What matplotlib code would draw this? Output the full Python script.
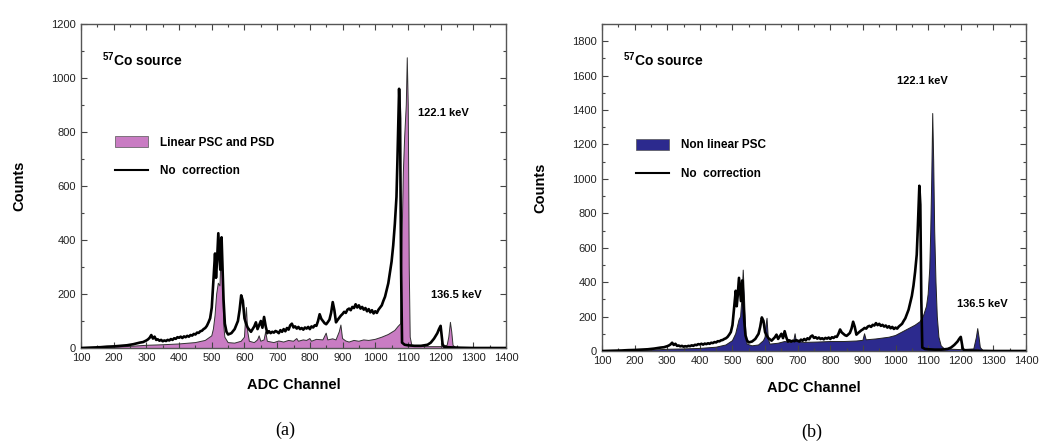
import matplotlib
matplotlib.use("Agg")
import matplotlib.pyplot as plt
from matplotlib.patches import Patch
from matplotlib.lines import Line2D
from matplotlib.ticker import MultipleLocator

plt.rcParams['font.family'] = ['Liberation Sans', 'DejaVu Sans']
plt.rcParams['mathtext.fontset'] = 'custom'
plt.rcParams['mathtext.rm'] = 'Liberation Sans:bold'
plt.rcParams['mathtext.bf'] = 'Liberation Sans:bold'

# ---- No correction spectrum (same in both panels) ----
nc_ch = [100, 120, 140, 160, 180, 200, 220, 240, 260, 280, 290,
         300, 305, 310, 315, 320, 325, 330, 335, 340, 345, 350, 355, 360, 365, 370, 375, 380, 385,
         390, 395, 400, 405, 410, 415, 420, 425, 430, 435, 440, 445, 450, 455, 460, 465, 470, 475,
         480, 485, 490, 495, 500, 505,
         510, 513, 516, 520, 523, 526, 530, 533, 536, 540, 545, 550, 560, 570, 580, 585, 590, 595,
         600, 605, 610, 620, 630, 635, 640, 645, 650, 655, 660, 665, 670, 675, 680, 685, 690, 695,
         700, 705, 710, 715, 720, 725, 730, 735, 740, 745, 750, 755, 760, 765, 770, 775, 780, 785,
         790, 795, 800, 805, 810, 815, 820, 825, 830, 835, 840, 845, 850, 855, 860, 865, 870, 875,
         880, 885, 890, 895, 900, 905, 910, 915, 920, 925, 930, 935, 940, 945, 950, 955, 960, 965,
         970, 975, 980, 985, 990, 995, 1000, 1005, 1010, 1015, 1020, 1025, 1030, 1035, 1040, 1045,
         1050, 1055, 1060, 1065, 1068, 1071, 1073, 1076, 1079, 1082, 1090, 1100, 1120, 1140,
         1160, 1170, 1180, 1190, 1195, 1200, 1203, 1206, 1210, 1220, 1240, 1260, 1300, 1400]
nc_counts = [0, 1, 2, 3, 5, 6, 8, 10, 14, 20, 22,
             28, 32, 38, 48, 35, 42, 30, 32, 27, 30, 25, 28, 26, 30, 28, 33, 30, 36,
             34, 40, 38, 42, 37, 43, 40, 45, 42, 48, 46, 52, 50, 57, 56, 62, 64, 70,
             74, 82, 95, 110, 150, 250,
             350, 260, 320, 425, 360, 290, 410, 300, 180, 90, 60, 50, 55, 70, 100, 140, 195, 175,
             110, 90, 75, 60, 80, 95, 70, 85, 100, 75, 115, 80, 55, 62, 55, 60, 57, 63,
             60, 55, 66, 60, 70, 62, 74, 68, 84, 90, 76, 80, 72, 78, 70, 74, 68, 76,
             72, 78, 70, 80, 76, 84, 82, 100, 125, 108, 100, 92, 88, 96, 105, 130, 170, 140,
             95, 104, 112, 120, 126, 134, 130, 142, 146, 140, 152, 148, 162, 150, 158, 146, 152, 142,
             148, 136, 144, 132, 140, 128, 136, 130, 142, 150, 158, 175, 190, 215, 240, 280,
             320, 380, 460, 560, 700, 860, 960, 850, 300, 20, 12, 10, 8, 8,
             12, 20, 35, 55, 70, 82, 50, 15, 5, 3, 2, 1, 0, 0]

# ---- Linear PSC and PSD (panel a) ----
lin_ch = [100, 150, 200, 250, 300, 350, 400, 450, 480, 500, 505, 510, 515, 520, 525, 530, 533, 537,
          540, 550, 570, 590, 600, 603, 606, 610, 615, 630, 640, 645, 650, 660, 665, 670, 690, 705,
          720, 735, 750, 760, 765, 780, 790, 800, 805, 820, 840, 850, 855, 870, 880, 890, 895, 900,
          910, 920, 935, 950, 965, 980, 1000, 1020,
          1040, 1060, 1070, 1078, 1082, 1086, 1090, 1095, 1098, 1101, 1104, 1107, 1112, 1150, 1200,
          1220, 1225, 1230, 1234, 1238, 1245, 1300, 1400]
lin_counts = [0, 1, 3, 6, 10, 12, 15, 20, 28, 45, 70, 120, 200, 240, 230, 400, 250, 80,
              40, 20, 18, 25, 40, 100, 150, 60, 25, 20, 30, 45, 25, 30, 60, 25, 20, 26,
              22, 28, 25, 35, 25, 30, 28, 35, 25, 32, 30, 55, 30, 34, 30, 60, 85, 35,
              26, 22, 28, 25, 30, 28, 32, 40,
              50, 65, 80, 90, 400, 650, 780, 900, 1075, 900, 300, 40, 10, 5, 5,
              10, 40, 95, 60, 10, 2, 0, 0]

# ---- Non linear PSC (panel b) ----
nl_ch = [100, 150, 200, 250, 300, 350, 400, 450, 480, 500, 510, 520, 525, 530, 533, 537, 541, 545,
         560, 580, 595, 600, 603, 606, 610, 615, 640, 660, 680, 688, 692, 696, 720, 760, 800, 840,
         880, 900, 905, 910, 940, 980, 1000, 1020, 1040, 1060, 1075, 1085, 1095, 1100, 1105, 1108,
         1111, 1114, 1117, 1120, 1124, 1128, 1133, 1140, 1150, 1200, 1240, 1248, 1252, 1256, 1260,
         1268, 1300, 1400]
nl_counts = [0, 1, 3, 5, 10, 12, 15, 22, 35, 60, 100, 180, 200, 330, 470, 300, 90, 40,
             30, 35, 60, 80, 150, 190, 70, 40, 45, 55, 50, 60, 100, 55, 50, 52, 55, 55,
             58, 62, 100, 65, 70, 80, 90, 110, 130, 150, 170, 200, 260, 330, 480, 700,
             1000, 1380, 1100, 700, 400, 200, 80, 30, 12, 8, 12, 80, 130, 80, 20,
             3, 0, 0]

xticks = [100, 200, 300, 400, 500, 600, 700, 800, 900, 1000, 1100, 1200, 1300, 1400]

pink = '#c97cc3'
blue = '#2c2a8e'

fig = plt.figure(figsize=(10.47, 4.44), dpi=100)
ax_a = fig.add_axes([81 / 1047, 96 / 444, 425 / 1047, 324 / 444])
ax_b = fig.add_axes([602 / 1047, 93 / 444, 424 / 1047, 327 / 444])


def style(ax, ymax):
    ax.set_xlim(100, 1400)
    ax.set_ylim(0, ymax)
    ax.set_xticks(xticks)
    ax.xaxis.set_minor_locator(MultipleLocator(50))
    ax.yaxis.set_major_locator(MultipleLocator(200))
    ax.yaxis.set_minor_locator(MultipleLocator(100))
    ax.tick_params(which='both', direction='in', top=True, right=True,
                   labelsize=8, labelcolor='#222222', color='#444444', width=0.8)
    ax.tick_params(which='major', length=4)
    ax.tick_params(which='minor', length=2)
    for s in ax.spines.values():
        s.set_linewidth(1.0)
        s.set_color('#555555')
    ax.set_xlabel('ADC Channel', fontsize=10.5, fontweight='bold', labelpad=11)
    ax.set_ylabel('Counts', fontsize=10.5, fontweight='bold', labelpad=18)
    ax.text(0.05, 0.89, r'$^{57}$Co source', transform=ax.transAxes,
            fontsize=10, fontweight='bold', va='center', ha='left')


# Panel (a)
ax_a.fill_between(lin_ch, lin_counts, 0, facecolor=pink, edgecolor='none', zorder=1)
ax_a.plot(lin_ch, lin_counts, color='#333333', lw=0.7, zorder=2)
ax_a.plot(nc_ch, nc_counts, color='black', lw=1.9, zorder=3)
style(ax_a, 1200)
ax_a.text(1131, 870, '122.1 keV', fontsize=8, fontweight='bold', va='center')
ax_a.text(1172, 196, '136.5 keV', fontsize=8, fontweight='bold', va='center')
ax_a.legend(handles=[Patch(facecolor=pink, edgecolor='#555555', linewidth=0.5),
                     Line2D([], [], color='black', lw=1.5)],
            labels=['Linear PSC and PSD', 'No  correction'],
            loc='center left', bbox_to_anchor=(0.055, 0.59), frameon=False,
            prop={'size': 8.5, 'weight': 'bold'}, handlelength=2.8, handleheight=1.0,
            handletextpad=1.0, labelspacing=1.4)

# Panel (b)
ax_b.fill_between(nl_ch, nl_counts, 0, facecolor=blue, edgecolor='none', zorder=1)
ax_b.plot(nl_ch, nl_counts, color='#222222', lw=0.7, zorder=2)
ax_b.plot(nc_ch, nc_counts, color='black', lw=1.9, zorder=3)
style(ax_b, 1900)
ax_b.text(1005, 1571, '122.1 keV', fontsize=8, fontweight='bold', va='center')
ax_b.text(1187, 272, '136.5 keV', fontsize=8, fontweight='bold', va='center')
ax_b.legend(handles=[Patch(facecolor=blue, edgecolor='#555555', linewidth=0.5),
                     Line2D([], [], color='black', lw=1.5)],
            labels=['Non linear PSC', 'No  correction'],
            loc='center left', bbox_to_anchor=(0.055, 0.585), frameon=False,
            prop={'size': 8.5, 'weight': 'bold'}, handlelength=2.8, handleheight=1.0,
            handletextpad=1.0, labelspacing=1.4)

fig.text(285 / 1047, 1 - 430 / 444, '(a)', family=['Liberation Serif', 'DejaVu Serif'],
         fontsize=13, ha='center', va='center')
fig.text(812 / 1047, 1 - 432 / 444, '(b)', family=['Liberation Serif', 'DejaVu Serif'],
         fontsize=13, ha='center', va='center')

fig.savefig('out.png', dpi=100)
